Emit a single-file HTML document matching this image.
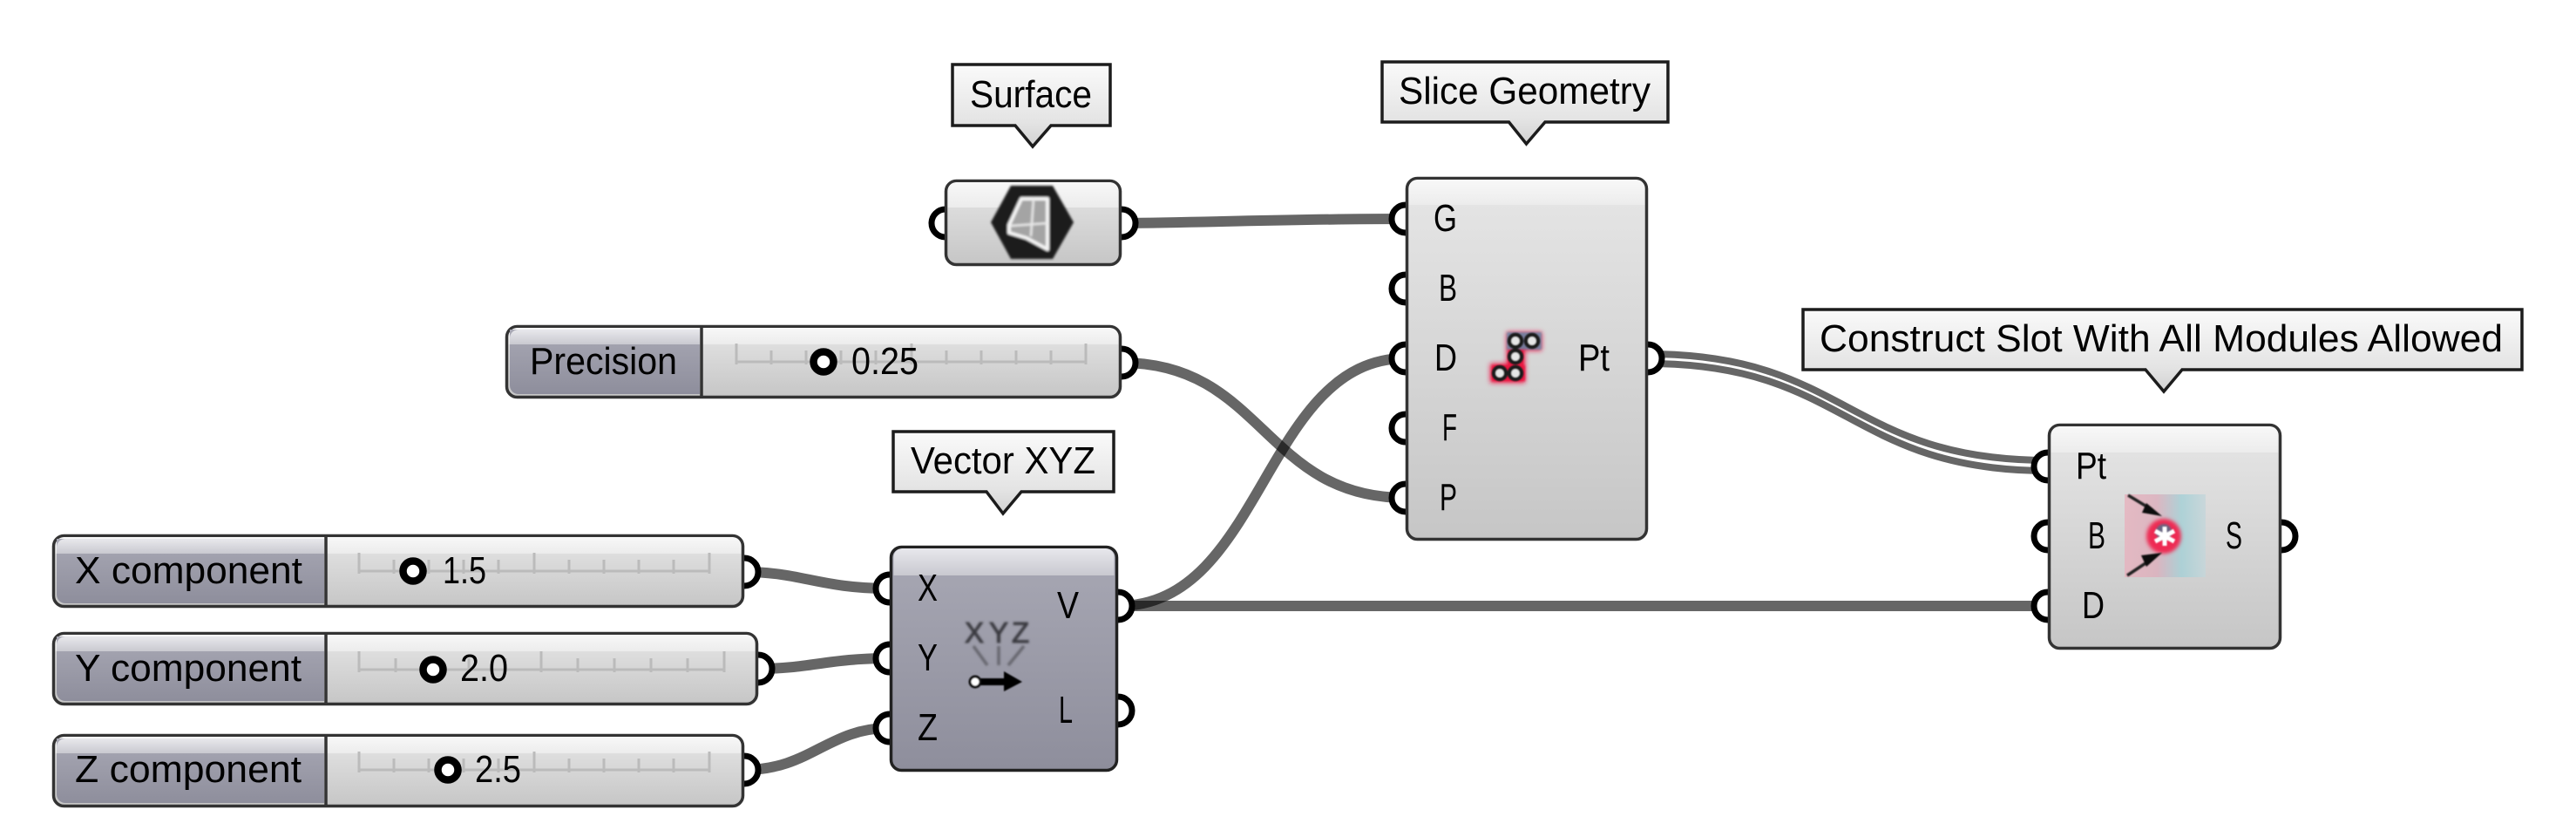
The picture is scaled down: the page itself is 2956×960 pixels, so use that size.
<!DOCTYPE html>
<html><head><meta charset="utf-8"><style>html,body{margin:0;padding:0;background:#fff}svg{display:block}text{font-family:"Liberation Sans",sans-serif;font-size:44px;fill:#000}</style></head>
<body>
<svg width="2956" height="960" viewBox="0 0 2956 960" xmlns="http://www.w3.org/2000/svg">
<defs>
<linearGradient id="body" x1="0" y1="0" x2="0" y2="1"><stop offset="0" stop-color="#e6e6e6"/><stop offset="1" stop-color="#c6c6c6"/></linearGradient>
<linearGradient id="band" x1="0" y1="0" x2="0" y2="1"><stop offset="0" stop-color="#f8f8f8"/><stop offset="1" stop-color="#ececec"/></linearGradient>
<linearGradient id="pbody" x1="0" y1="0" x2="0" y2="1"><stop offset="0" stop-color="#a8a8b4"/><stop offset="1" stop-color="#8e8e9c"/></linearGradient>
<linearGradient id="pband" x1="0" y1="0" x2="0" y2="1"><stop offset="0" stop-color="#e8e8ec"/><stop offset="1" stop-color="#c9c9d0"/></linearGradient>
<linearGradient id="tag" x1="0" y1="0" x2="0" y2="1"><stop offset="0" stop-color="#fafafa"/><stop offset=".7" stop-color="#e4e4e4"/><stop offset="1" stop-color="#d2d2d2"/></linearGradient>
<linearGradient id="tint" x1="0" y1="0" x2="1" y2="0"><stop offset="0" stop-color="#e6b4bf"/><stop offset=".4" stop-color="#dcb0bd"/><stop offset=".7" stop-color="#a6d0d6"/><stop offset="1" stop-color="#c6d6da"/></linearGradient>
<filter id="b1" x="-30%" y="-30%" width="160%" height="160%"><feGaussianBlur stdDeviation="1.2"/></filter>
<filter id="b05" x="-30%" y="-30%" width="160%" height="160%"><feGaussianBlur stdDeviation="0.8"/></filter>
<filter id="b2" x="-40%" y="-40%" width="180%" height="180%"><feGaussianBlur stdDeviation="2"/></filter>
<filter id="b3" x="-40%" y="-40%" width="180%" height="180%"><feGaussianBlur stdDeviation="3"/></filter>
</defs>

<!-- wires -->
<g fill="none" stroke="#000" stroke-opacity=".6" stroke-width="12">
<path d="M1287,256 C1400,255 1480,251 1613,251"/>
<path d="M1287,416 C1450,416 1450,571 1613,571"/>
<path d="M1283,695 C1450,695 1450,411 1613,411"/>
<path d="M1283,695 L2350,695"/>
<path d="M854,656 C920,656 940,675 1021,675"/>
<path d="M870,767 C930,767 950,755 1021,755"/>
<path d="M854,883 C930,883 950,835 1021,835"/>
</g>
<g fill="none" stroke="#666" stroke-width="8">
<path d="M1891,406 C2120,406 2120,528 2350,528"/>
<path d="M1891,417 C2120,417 2120,540 2350,540"/>
</g>

<!-- ports -->
<g fill="#fff" stroke="#000" stroke-width="7">
<circle cx="1085" cy="256" r="16"/><circle cx="1287" cy="256" r="16"/>
<circle cx="1613" cy="251" r="16"/><circle cx="1613" cy="331" r="16"/><circle cx="1613" cy="411" r="16"/><circle cx="1613" cy="491" r="16"/><circle cx="1613" cy="571" r="16"/>
<circle cx="1891" cy="411" r="16"/>
<circle cx="1287" cy="416" r="16"/>
<circle cx="854" cy="656" r="16"/><circle cx="870" cy="767" r="16"/><circle cx="854" cy="883" r="16"/>
<circle cx="1021" cy="675" r="16"/><circle cx="1021" cy="755" r="16"/><circle cx="1021" cy="835" r="16"/>
<circle cx="1283" cy="695" r="16"/><circle cx="1283" cy="815" r="16"/>
<circle cx="2350" cy="535" r="16"/><circle cx="2350" cy="615" r="16"/><circle cx="2350" cy="695" r="16"/>
<circle cx="2618" cy="615" r="16"/>
</g>

<!-- tags -->
<g fill="url(#tag)" stroke="#1c1c1c" stroke-width="3.5" stroke-linejoin="miter">
<path d="M1093,74 H1274 V144 H1206 L1185,168 L1165,144 H1093 Z"/>
<path d="M1586,71 H1914 V140 H1773 L1751.5,165 L1731.5,140 H1586 Z"/>
<path d="M1025,495 H1278 V564 H1172 L1151,589 L1132,564 H1025 Z"/>
<path d="M2069,355 H2894 V424 H2504 L2483,449 L2462,424 H2069 Z"/>
</g>
<text x="1113" y="123" textLength="140" lengthAdjust="spacingAndGlyphs">Surface</text>
<text x="1605" y="119" textLength="289" lengthAdjust="spacingAndGlyphs">Slice Geometry</text>
<text x="1045" y="543" textLength="212" lengthAdjust="spacingAndGlyphs">Vector XYZ</text>
<text x="2088" y="403" textLength="784" lengthAdjust="spacingAndGlyphs">Construct Slot With All Modules Allowed</text>

<!-- Surface component -->
<rect x="1085.5" y="207.5" width="200" height="96" rx="12" fill="url(#body)" stroke="#333" stroke-width="3.5"/>
<path d="M1087.5,238 V219 a10,10 0 0 1 10,-10 H1273.5 a10,10 0 0 1 10,10 V238 Z" fill="url(#band)"/>
<g filter="url(#b1)">
<path d="M1137,255 L1160,213 H1208 L1232,255 L1208,297 H1160 Z" fill="#1d1d1d"/>
<path d="M1172,228 H1202 V286 L1178,273 L1158,267 V258 Z" fill="#a4a4a4" stroke="#f4f4f4" stroke-width="4" stroke-linejoin="round"/>
<path d="M1186,228 L1183,271 M1160,259 L1202,256" stroke="#e8e8e8" stroke-width="2.5" fill="none"/>
</g>

<!-- Slice Geometry -->
<rect x="1614.5" y="204.5" width="275" height="414" rx="12" fill="url(#body)" stroke="#333" stroke-width="3.5"/>
<path d="M1616.5,235 V216 a10,10 0 0 1 10,-10 H1877.5 a10,10 0 0 1 10,10 V235 Z" fill="url(#band)"/>
<g>
<path d="M1729,381 H1769 V402 H1750 V439 H1710 V417 H1729 Z" fill="#f01c48" filter="url(#b3)"/>
<path d="M1712,419 H1750 V437 H1712 Z M1731,400 H1748 V420 H1731 Z" fill="#e8153f" filter="url(#b1)"/>
<rect x="1729" y="381" width="40" height="20" fill="#5a90ad" opacity=".8" filter="url(#b1)"/>
<g fill="#e6e6e6" stroke="#1c1c1c" stroke-width="4.5" filter="url(#b05)">
<circle cx="1739" cy="391" r="7"/><circle cx="1758" cy="391" r="7"/><circle cx="1739" cy="409" r="7"/><circle cx="1721" cy="428" r="7"/><circle cx="1739" cy="428" r="7"/>
</g>
</g>
<text x="1645" y="265" textLength="27" lengthAdjust="spacingAndGlyphs">G</text>
<text x="1651" y="345" textLength="21" lengthAdjust="spacingAndGlyphs">B</text>
<text x="1646" y="425" textLength="26" lengthAdjust="spacingAndGlyphs">D</text>
<text x="1655" y="505" textLength="17" lengthAdjust="spacingAndGlyphs">F</text>
<text x="1652" y="585" textLength="20" lengthAdjust="spacingAndGlyphs">P</text>
<text x="1811" y="425" textLength="36" lengthAdjust="spacingAndGlyphs">Pt</text>

<!-- Precision slider -->
<g>
<rect x="581.5" y="374.5" width="704" height="81" rx="12" fill="url(#body)" stroke="#333" stroke-width="3.5"/>
<path d="M583.5,395 V386 a10,10 0 0 1 10,-10 H1273.5 a10,10 0 0 1 10,10 V395 Z" fill="url(#band)"/>
<path d="M585,378 H803 V452 H595 a10,10 0 0 1 -10,-10 Z" fill="url(#pbody)"/>
<path d="M585,395 V388 a10,10 0 0 1 10,-10 H803 V395 Z" fill="url(#pband)"/>
<path d="M805,373 V457" stroke="#333" stroke-width="3.5"/>
<path d="M845,415 H1246 M845,394 V418 M1046,394 V418 M1246,394 V418 M885,402 V418 M925,402 V418 M965,402 V418 M1005,402 V418 M1086,402 V418 M1126,402 V418 M1166,402 V418 M1206,402 V418" stroke="#bbb" stroke-width="3" fill="none"/>
<circle cx="945" cy="415" r="11.5" fill="#fff" stroke="#000" stroke-width="8.5"/>
<text x="608" y="429" textLength="169" lengthAdjust="spacingAndGlyphs">Precision</text>
<text x="977" y="429" textLength="77" lengthAdjust="spacingAndGlyphs">0.25</text>
</g>

<!-- X slider -->
<g>
<rect x="61.5" y="614.5" width="791" height="81" rx="12" fill="url(#body)" stroke="#333" stroke-width="3.5"/>
<path d="M63.5,635 V626 a10,10 0 0 1 10,-10 H840.5 a10,10 0 0 1 10,10 V635 Z" fill="url(#band)"/>
<path d="M65,618 H372 V692 H75 a10,10 0 0 1 -10,-10 Z" fill="url(#pbody)"/>
<path d="M65,635 V628 a10,10 0 0 1 10,-10 H372 V635 Z" fill="url(#pband)"/>
<path d="M374,613 V697" stroke="#333" stroke-width="3.5"/>
<path d="M412,655 H814 M412,634 V658 M613,634 V658 M814,634 V658 M452,642 V658 M492,642 V658 M532,642 V658 M572,642 V658 M653,642 V658 M693,642 V658 M733,642 V658 M773,642 V658" stroke="#bbb" stroke-width="3" fill="none"/>
<circle cx="474" cy="655" r="11.5" fill="#fff" stroke="#000" stroke-width="8.5"/>
<text x="86" y="669" textLength="261" lengthAdjust="spacingAndGlyphs">X component</text>
<text x="508" y="669" textLength="50" lengthAdjust="spacingAndGlyphs">1.5</text>
</g>

<!-- Y slider -->
<g>
<rect x="61.5" y="726.5" width="807" height="81" rx="12" fill="url(#body)" stroke="#333" stroke-width="3.5"/>
<path d="M63.5,747 V738 a10,10 0 0 1 10,-10 H856.5 a10,10 0 0 1 10,10 V747 Z" fill="url(#band)"/>
<path d="M65,730 H372 V804 H75 a10,10 0 0 1 -10,-10 Z" fill="url(#pbody)"/>
<path d="M65,747 V740 a10,10 0 0 1 10,-10 H372 V747 Z" fill="url(#pband)"/>
<path d="M374,725 V809" stroke="#333" stroke-width="3.5"/>
<path d="M412,768 H831 M412,747 V771 M621,747 V771 M831,747 V771 M454,755 V771 M496,755 V771 M538,755 V771 M580,755 V771 M663,755 V771 M705,755 V771 M747,755 V771 M789,755 V771" stroke="#bbb" stroke-width="3" fill="none"/>
<circle cx="497" cy="768" r="11.5" fill="#fff" stroke="#000" stroke-width="8.5"/>
<text x="86" y="781" textLength="260" lengthAdjust="spacingAndGlyphs">Y component</text>
<text x="528" y="781" textLength="55" lengthAdjust="spacingAndGlyphs">2.0</text>
</g>

<!-- Z slider -->
<g>
<rect x="61.5" y="843.5" width="791" height="81" rx="12" fill="url(#body)" stroke="#333" stroke-width="3.5"/>
<path d="M63.5,864 V855 a10,10 0 0 1 10,-10 H840.5 a10,10 0 0 1 10,10 V864 Z" fill="url(#band)"/>
<path d="M65,847 H372 V921 H75 a10,10 0 0 1 -10,-10 Z" fill="url(#pbody)"/>
<path d="M65,864 V857 a10,10 0 0 1 10,-10 H372 V864 Z" fill="url(#pband)"/>
<path d="M374,842 V925" stroke="#333" stroke-width="3.5"/>
<path d="M412,883 H814 M412,862 V886 M613,862 V886 M814,862 V886 M452,870 V886 M492,870 V886 M532,870 V886 M572,870 V886 M653,870 V886 M693,870 V886 M733,870 V886 M773,870 V886" stroke="#bbb" stroke-width="3" fill="none"/>
<circle cx="514" cy="883" r="11.5" fill="#fff" stroke="#000" stroke-width="8.5"/>
<text x="86" y="897" textLength="260" lengthAdjust="spacingAndGlyphs">Z component</text>
<text x="545" y="897" textLength="53" lengthAdjust="spacingAndGlyphs">2.5</text>
</g>

<!-- Vector XYZ -->
<rect x="1022.5" y="627.5" width="259" height="256" rx="12" fill="url(#pbody)" stroke="#222" stroke-width="3.5"/>
<path d="M1025.5,660 V639 a10,10 0 0 1 10,-10 H1268.5 a10,10 0 0 1 10,10 V660 Z" fill="url(#pband)"/>
<g filter="url(#b1)">
<text x="1107" y="737" style="font-size:33px;fill:#3a3a40" stroke="#3a3a40" stroke-width="1">X</text>
<text x="1135" y="737" style="font-size:33px;fill:#3a3a40" stroke="#3a3a40" stroke-width="1">Y</text>
<text x="1161" y="737" style="font-size:33px;fill:#3a3a40" stroke="#3a3a40" stroke-width="1">Z</text>
<path d="M1117,741 L1133,763 M1146,741 V763 M1175,741 L1157,763" stroke="#66666e" stroke-width="3.5" fill="none"/>
</g>
<g filter="url(#b05)">
<path d="M1125,782 H1154" stroke="#000" stroke-width="8"/>
<path d="M1152,770 L1173,782 L1152,793 Z" fill="#000"/>
<circle cx="1119" cy="782" r="6" fill="#fff" stroke="#111" stroke-width="3"/>
</g>
<text x="1053" y="689" textLength="23" lengthAdjust="spacingAndGlyphs">X</text>
<text x="1053" y="769" textLength="23" lengthAdjust="spacingAndGlyphs">Y</text>
<text x="1053" y="849" textLength="23" lengthAdjust="spacingAndGlyphs">Z</text>
<text x="1213" y="709" textLength="25" lengthAdjust="spacingAndGlyphs">V</text>
<text x="1215" y="829" textLength="16" lengthAdjust="spacingAndGlyphs">L</text>

<!-- Construct Slot -->
<rect x="2351.5" y="487.5" width="265" height="256" rx="12" fill="url(#body)" stroke="#333" stroke-width="3.5"/>
<path d="M2353.5,519 V499 a10,10 0 0 1 10,-10 H2604.5 a10,10 0 0 1 10,10 V519 Z" fill="url(#band)"/>
<g>
<rect x="2438" y="567" width="93" height="95" fill="url(#tint)" opacity=".85"/>
<circle cx="2483" cy="615" r="20" fill="#ee2a52" filter="url(#b2)"/>
<circle cx="2483" cy="610" r="9" fill="#2f7f95" opacity=".7" filter="url(#b1)"/>
<g stroke="#fff" stroke-width="5" filter="url(#b05)"><path d="M2484,604 V626 M2473,609 L2495,621 M2495,609 L2473,621"/></g>
<g filter="url(#b05)">
<path d="M2442,568 L2470,585" stroke="#222" stroke-width="3.5"/><path d="M2463,577 L2481,592 L2458,588 Z" fill="#111"/>
<path d="M2441,660 L2468,642" stroke="#222" stroke-width="3.5"/><path d="M2481,634 L2463,650 L2457,637 Z" fill="#111"/>
</g>
</g>
<text x="2382" y="549" textLength="35" lengthAdjust="spacingAndGlyphs">Pt</text>
<text x="2396" y="629" textLength="20" lengthAdjust="spacingAndGlyphs">B</text>
<text x="2389" y="709" textLength="26" lengthAdjust="spacingAndGlyphs">D</text>
<text x="2554" y="629" textLength="19" lengthAdjust="spacingAndGlyphs">S</text>
</svg>
</body></html>
